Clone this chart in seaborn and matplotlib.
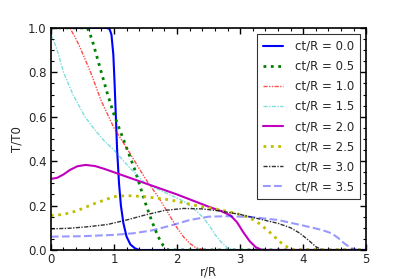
import numpy as np
import pandas as pd
import matplotlib
matplotlib.use('Agg')
import matplotlib.pyplot as plt
import seaborn as sns

# values
labels = ['ct/R = 0.0', 'ct/R = 0.5', 'ct/R = 1.0', 'ct/R = 1.5',
          'ct/R = 2.0', 'ct/R = 2.5', 'ct/R = 3.0', 'ct/R = 3.5']

x_00 = [0, 0.88, 0.93, 0.96, 0.99, 1.01, 1.03, 1.05, 1.08, 1.11, 1.15, 1.2, 1.26, 1.33, 1.4, 5]
y_00 = [1, 1, 0.995, 0.97, 0.88, 0.75, 0.6, 0.45, 0.3, 0.2, 0.12, 0.06, 0.025, 0.008, 0, 0]

x_05 = [0, 0.58, 0.65, 0.72, 0.8, 0.9, 1.0, 1.08, 1.16, 1.24, 1.32, 1.4, 1.5, 1.6, 1.7, 1.78, 1.86, 5]
y_05 = [1, 1, 0.95, 0.88, 0.8, 0.7, 0.61, 0.55, 0.49, 0.43, 0.37, 0.3, 0.21, 0.13, 0.06, 0.02, 0, 0]

x_10 = [0, 0.3, 0.38, 0.45, 0.54, 0.63, 0.8, 1.0, 1.2, 1.35, 1.5, 1.7, 1.85, 2.0, 2.1, 2.2, 2.3, 2.45, 5]
y_10 = [1, 1, 0.96, 0.92, 0.86, 0.8, 0.67, 0.55, 0.46, 0.39, 0.32, 0.24, 0.17, 0.1, 0.06, 0.03, 0.01, 0, 0]

x_15 = [0, 0.05, 0.1, 0.2, 0.35, 0.54, 0.7, 0.85, 1.0, 1.25, 1.5, 1.8, 2.1, 2.25, 2.4, 2.5, 2.6, 2.7, 2.8, 2.9, 5]
y_15 = [0.97, 0.94, 0.9, 0.8, 0.7, 0.6, 0.54, 0.49, 0.45, 0.37, 0.3, 0.26, 0.22, 0.19, 0.15, 0.115, 0.07, 0.035, 0.01, 0, 0]

x_20 = [0, 0.1, 0.2, 0.3, 0.42, 0.55, 0.7, 0.85, 1.0, 1.5, 2.0, 2.5, 2.7, 2.85, 2.95, 3.05, 3.15, 3.25, 3.35, 5]
y_20 = [0.32, 0.325, 0.34, 0.36, 0.377, 0.383, 0.378, 0.365, 0.35, 0.3, 0.25, 0.195, 0.175, 0.155, 0.125, 0.08, 0.04, 0.012, 0, 0]

x_25 = [0, 0.2, 0.4, 0.7, 1.0, 1.2, 1.5, 1.9, 2.3, 2.7, 3.0, 3.15, 3.3, 3.45, 3.58, 3.7, 3.85, 5]
y_25 = [0.155, 0.16, 0.175, 0.21, 0.24, 0.245, 0.24, 0.225, 0.2, 0.18, 0.16, 0.145, 0.12, 0.085, 0.05, 0.02, 0, 0]

x_30 = [0, 0.3, 0.6, 0.9, 1.2, 1.5, 1.8, 2.1, 2.4, 2.7, 3.0, 3.3, 3.6, 3.8, 3.95, 4.1, 4.2, 4.3, 5]
y_30 = [0.095, 0.098, 0.105, 0.115, 0.135, 0.158, 0.178, 0.187, 0.185, 0.175, 0.16, 0.14, 0.12, 0.1, 0.075, 0.04, 0.015, 0, 0]

x_35 = [0, 0.5, 1.0, 1.3, 1.6, 1.9, 2.2, 2.5, 2.8, 3.2, 3.6, 4.0, 4.3, 4.45, 4.55, 4.65, 4.75, 4.85, 5]
y_35 = [0.06, 0.062, 0.068, 0.075, 0.088, 0.11, 0.135, 0.15, 0.152, 0.148, 0.135, 0.11, 0.09, 0.075, 0.055, 0.03, 0.01, 0, 0]

xs = [x_00, x_05, x_10, x_15, x_20, x_25, x_30, x_35]
ys = [y_00, y_05, y_10, y_15, y_20, y_25, y_30, y_35]

styles = [
    dict(color='b', linestyle='-', linewidth=1.5),
    dict(color='g', linestyle=':', linewidth=2),
    dict(color='r', linestyle=(0, (3, 1, 1, 1, 1, 1)), linewidth=1, alpha=0.7),
    dict(color='c', linestyle=(0, (3, 1, 1, 1)), linewidth=1, alpha=0.5),
    dict(color='m', linestyle='-', linewidth=1.5),
    dict(color='y', linestyle=':', linewidth=2),
    dict(color='k', linestyle=(0, (3, 1, 1, 1)), linewidth=1, alpha=0.8),
    dict(color='b', linestyle='--', linewidth=1.5, alpha=0.4),
]

sns.set_style('ticks')
plt.rcParams['font.family'] = ['DejaVu Sans']
plt.rcParams['font.size'] = 8
plt.rcParams['xtick.direction'] = 'in'
plt.rcParams['ytick.direction'] = 'in'

fig = plt.figure(figsize=(4.07, 2.79), dpi=100)
ax = fig.add_axes([0.125, 0.104, 0.775, 0.796])

for lab, x, y, st in zip(labels, xs, ys, styles):
    df = pd.DataFrame({'r': x, 'T': y})
    sns.lineplot(data=df, x='r', y='T', ax=ax, label=lab, sort=False, **st)

ax.set_xlim(0, 5)
ax.set_ylim(0, 1)
ax.set_xticks([0, 1, 2, 3, 4, 5])
ax.set_yticks([0, 0.2, 0.4, 0.6, 0.8, 1.0])
ax.set_yticklabels(['0.0', '0.2', '0.4', '0.6', '0.8', '1.0'])
ax.minorticks_on()
ax.tick_params(which='both', top=True, right=True, direction='in', color='k')
ax.tick_params(which='major', length=4, width=1, labelsize=8.5)
ax.tick_params(axis='x', which='major', pad=2)
ax.tick_params(axis='y', which='major', pad=3)
ax.tick_params(which='minor', length=2, width=0.8)
for s in ax.spines.values():
    s.set_color('k')
    s.set_linewidth(1.2)
ax.set_xlabel('r/R', fontsize=8.5, labelpad=0)
ax.set_ylabel('T/T0', fontsize=8.5, labelpad=3)

leg = ax.legend(loc='upper right', fontsize=8.5, fancybox=False, frameon=True,
                handlelength=1.7, handletextpad=1.0, borderaxespad=0.5,
                labelspacing=0.6, borderpad=0.5)
leg.get_frame().set_edgecolor('k')
leg.get_frame().set_linewidth(0.8)

fig.savefig('out.png', dpi=100)
